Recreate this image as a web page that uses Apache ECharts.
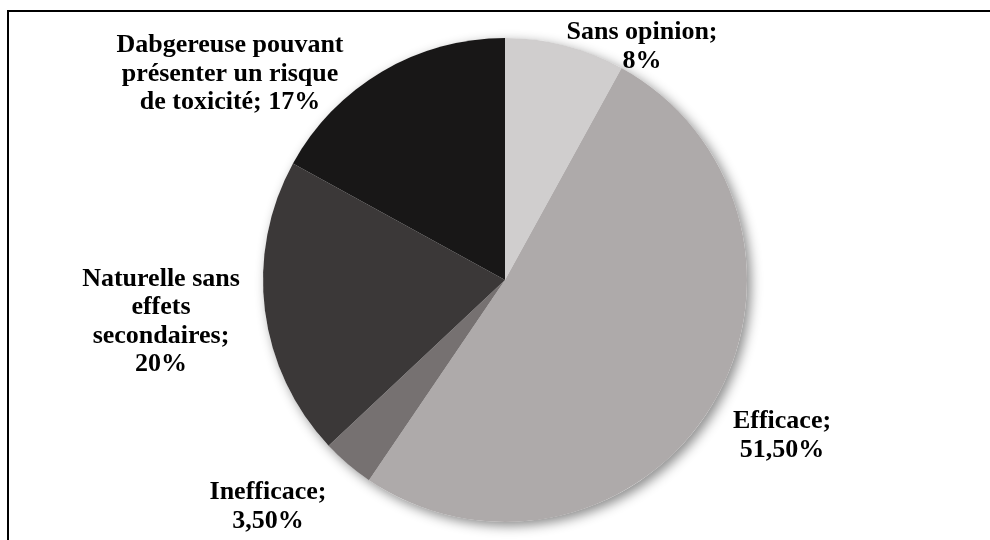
<!DOCTYPE html>
<html>
<head>
<meta charset="utf-8">
<script src="https://cdn.jsdelivr.net/npm/echarts@6/dist/echarts.min.js"></script>
<style>
  html, body { margin: 0; padding: 0; background: #fff; }
  #chart { width: 990px; height: 540px; }
</style>
</head>
<body>
<div id="chart"></div>
<script>
// Categories (clockwise from 12 o'clock) and their shares in percent
const categories = [
  'Sans opinion',
  'Efficace',
  'Inefficace',
  'Naturelle sans\neffets\nsecondaires',
  'Dabgereuse pouvant\nprésenter un risque\nde toxicité'
];
const shares = [8, 51.5, 3.5, 20, 17];
// Separator between the category name and its value in each label
const valueSeparators = ['\n', '\n', '\n', '\n', ' '];

const colors = ['#d0cece', '#aeaaaa', '#767171', '#3b3838', '#181717'];
// Label anchor points (centre of each text block)
const labelAnchors = [
  [642, 47], [782, 436], [268, 507], [161, 322], [230, 74]
];

function formatPct(v) {
  const s = Number.isInteger(v) ? String(v) : v.toFixed(2).replace('.', ',');
  return s + '%';
}

const chart = echarts.init(document.getElementById('chart'), null, { renderer: 'canvas' });

const total = shares.reduce((a, b) => a + b, 0);

chart.setOption({
  animation: false,
  backgroundColor: '#ffffff',
  graphic: [{
    type: 'rect',
    shape: { x: 8, y: 11, width: 1000, height: 600 },
    style: { fill: 'none', stroke: '#000', lineWidth: 2 },
    silent: true,
    z: 0
  }],
  series: [
    {
      // soft drop shadow under the whole disc
      type: 'pie',
      center: [505, 280],
      radius: [0, 242],
      silent: true,
      z: 1,
      label: { show: false },
      labelLine: { show: false },
      itemStyle: {
        color: '#ffffff',
        shadowBlur: 12,
        shadowOffsetX: 4,
        shadowOffsetY: 4,
        shadowColor: 'rgba(0,0,0,0.45)'
      },
      data: [{ value: total, name: '' }]
    },
    {
      type: 'pie',
      center: [505, 280],
      radius: [0, 242],
      startAngle: 90,
      clockwise: true,
      z: 2,
      itemStyle: { borderWidth: 0 },
      data: categories.map((c, i) => ({
        name: c,
        value: shares[i],
        itemStyle: { color: colors[i] }
      })),
      label: {
        show: true,
        position: 'outside',
        formatter: (p) => p.name + ';' + valueSeparators[p.dataIndex] + formatPct(p.value),
        fontFamily: '"Liberation Serif", "Times New Roman", serif',
        fontWeight: 'bold',
        fontSize: 26,
        lineHeight: 28.5,
        color: '#000',
        align: 'center'
      },
      labelLine: { show: false },
      labelLayout: (params) => {
        const a = labelAnchors[params.dataIndex];
        return { x: a[0], y: a[1], align: 'center', verticalAlign: 'middle', hideOverlap: false };
      }
    }
  ]
});
</script>
</body>
</html>
